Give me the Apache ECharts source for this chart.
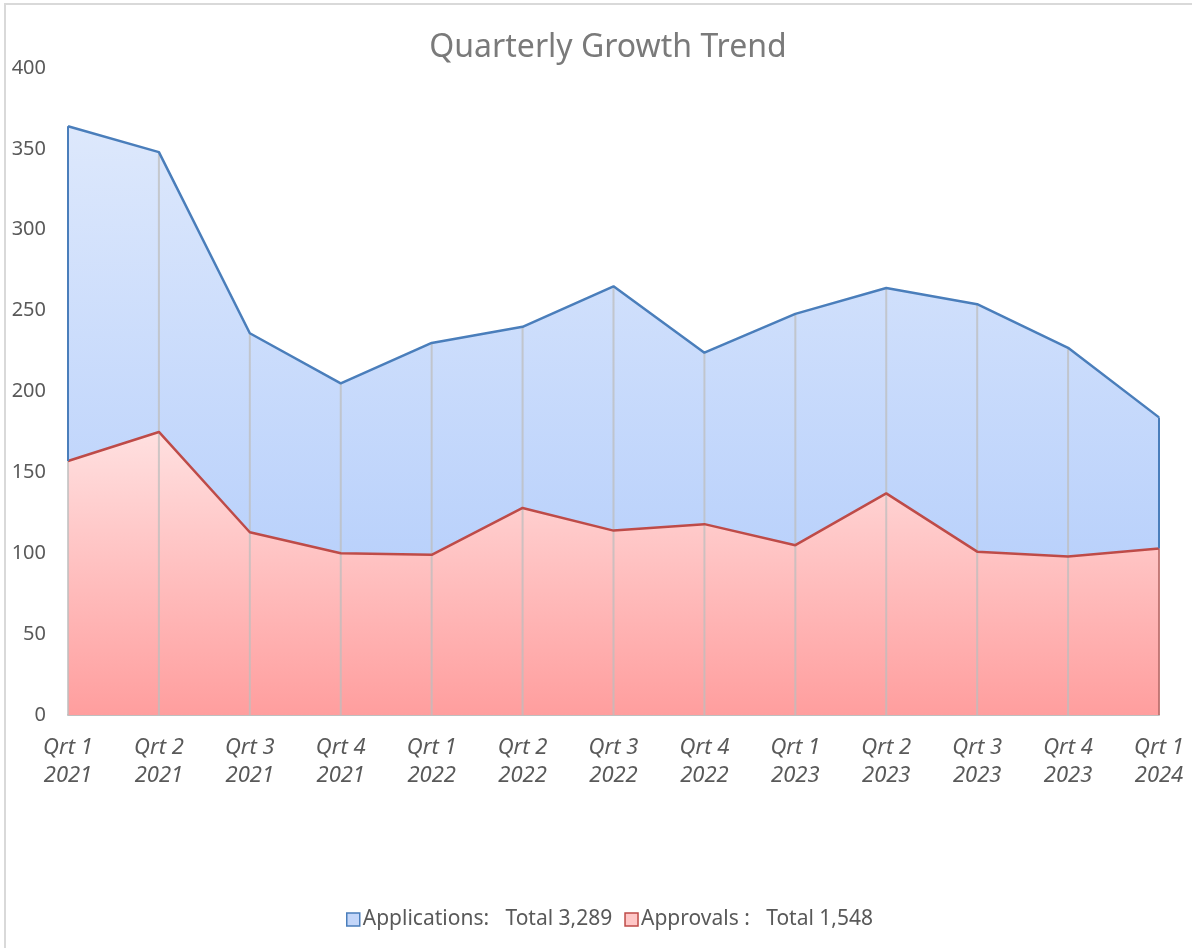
<!DOCTYPE html>
<html>
<head>
<meta charset="utf-8">
<script src="https://cdn.jsdelivr.net/npm/echarts@6/dist/echarts.min.js"></script>
<style>
html,body{margin:0;padding:0;background:#fff;}
#frame{position:absolute;left:4px;top:3px;width:1188px;height:945px;border-left:2px solid #d9d9d9;border-top:2px solid #d9d9d9;box-sizing:border-box;}
#chart{position:absolute;left:0;top:0;width:1192px;height:948px;}
</style>
</head>
<body>
<div id="frame"></div>
<div id="chart"></div>
<script>
const categories = ['Qrt 1\n2021','Qrt 2\n2021','Qrt 3\n2021','Qrt 4\n2021','Qrt 1\n2022','Qrt 2\n2022','Qrt 3\n2022','Qrt 4\n2022','Qrt 1\n2023','Qrt 2\n2023','Qrt 3\n2023','Qrt 4\n2023','Qrt 1\n2024'];
const applications = [364, 348, 236, 205, 230, 240, 265, 224, 248, 264, 254, 227, 184];
const approvals = [157, 175, 113, 100, 99, 128, 114, 118, 105, 137, 101, 98, 103];
const yTicks = [0, 50, 100, 150, 200, 250, 300, 350, 400];

function fmt(n){ return String(n).replace(/\B(?=(\d{3})+(?!\d))/g, ','); }
const totalApps = applications.reduce((a,b)=>a+b,0);
const totalAppr = approvals.reduce((a,b)=>a+b,0);
const legendText = {
  'Applications': 'Applications:   Total ' + fmt(totalApps),
  'Approvals': 'Approvals :   Total ' + fmt(totalAppr)
};

const blueLine = '#4a7ebb', redLine = '#be4b48';
const font = "'Noto Sans', 'Open Sans', sans-serif";

const chart = echarts.init(document.getElementById('chart'), null, {renderer:'canvas'});
chart.setOption({
  animation: false,
  backgroundColor: 'transparent',
  title: {
    text: 'Quarterly Growth Trend',
    left: 603, textAlign: 'center', top: 27,
    textStyle: {color:'#7a7a7a', fontSize: 32, fontWeight: 'normal', fontFamily: font}
  },
  legend: {
    bottom: 13, left: 341,
    itemWidth: 13, itemHeight: 13, itemGap: 12,
    textStyle: {color:'#595959', fontSize: 21, fontFamily: font, padding:[0,0,0,-2]},
    formatter: name => legendText[name],
    data: [
      {name:'Applications', icon:'rect', itemStyle:{color:'#c3d6f9', borderColor: blueLine, borderWidth: 1.5}},
      {name:'Approvals', icon:'rect', itemStyle:{color:'#ffc7c7', borderColor: redLine, borderWidth: 1.5}}
    ]
  },
  grid: {left: 68, right: 33, top: 68, bottom: 233, containLabel: false},
  xAxis: {
    type: 'category', data: categories, boundaryGap: false,
    axisLine: {show: true, lineStyle: {color:'#bfbfbf', width: 2}},
    axisTick: {show: false},
    splitLine: {show: false},
    axisLabel: {color:'#595959', fontSize: 22, fontStyle: 'italic', fontFamily: font, margin: 19, lineHeight: 28, interval: 0}
  },
  yAxis: {
    type: 'value', min: yTicks[0], max: yTicks[yTicks.length-1], interval: 50,
    axisLine: {show:false}, axisTick:{show:false},
    splitLine: {show:false},
    axisLabel: {color:'#595959', fontSize: 20, fontFamily: font, margin: 22}
  },
  series: [
    {
      name:'Applications', type:'line', data: applications, symbol:'none', z: 2,
      lineStyle: {width: 0},
      areaStyle: {opacity: 1, color: new echarts.graphic.LinearGradient(0,0,0,1,[
        {offset:0, color:'#dde8fc'}, {offset:1, color:'#adc9fb'}])}
    },
    {
      name:'Approvals', type:'line', data: approvals, symbol:'none', z: 2,
      lineStyle: {width: 0},
      areaStyle: {opacity: 1, color: new echarts.graphic.LinearGradient(0,0,0,1,[
        {offset:0, color:'#ffe0e0'}, {offset:1, color:'#ff9e9e'}])}
    },
    {
      name:'drop', type:'bar', data: applications, barWidth: 2, z: 3, silent: true,
      itemStyle: {color:'rgba(190,190,190,0.75)'}, barGap: '-100%'
    },
    {
      name:'Applications', type:'line', data: applications, symbol:'none', z: 4,
      lineStyle: {width: 2.5, color: blueLine},
      markLine: {
        silent: true, symbol: 'none', label: {show:false},
        lineStyle: {type:'solid', width: 2, color: blueLine},
        data: [
          [{coord:[0, approvals[0]]},{coord:[0, applications[0]]}],
          [{coord:[categories.length-1, approvals[approvals.length-1]]},{coord:[categories.length-1, applications[applications.length-1]]}]
        ]
      }
    },
    {
      name:'Approvals', type:'line', data: approvals, symbol:'none', z: 4,
      lineStyle: {width: 2.5, color: redLine},
      markLine: {
        silent: true, symbol: 'none', label: {show:false},
        lineStyle: {type:'solid', width: 2, color: 'rgba(190,75,72,0.6)'},
        data: [
          [{coord:[categories.length-1, 0]},{coord:[categories.length-1, approvals[approvals.length-1]]}]
        ]
      }
    }
  ]
});
</script>
</body>
</html>
